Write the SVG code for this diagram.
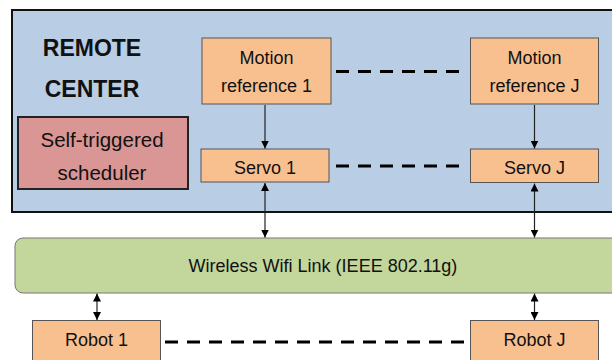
<svg xmlns="http://www.w3.org/2000/svg" width="612" height="360" viewBox="0 0 612 360">
<style>
text{font-family:"Liberation Sans",Arial,sans-serif;fill:#111;text-anchor:middle}
.t{font-size:18px}
.orange{fill:#f9c08f;stroke:#555;stroke-width:1}
.dash{stroke:#000;stroke-width:3;stroke-dasharray:13 9;fill:none}
.arr{stroke:#222;stroke-width:1.2;fill:none}
</style>
<defs>
<marker id="ah" viewBox="0 0 8 8" refX="8" refY="4" markerWidth="8" markerHeight="8" markerUnits="userSpaceOnUse" orient="auto-start-reverse">
<path d="M0,0 L8,4 L0,8 z" fill="#000"/>
</marker>
</defs>
<rect width="612" height="360" fill="#fff"/>
<g id="remote-center">
<rect x="12" y="10" width="620" height="202" fill="#b9cde5" stroke="#111" stroke-width="2"/>
<text x="92" y="56" style="font-size:23px;font-weight:bold">REMOTE</text>
<text x="92" y="97" style="font-size:23px;font-weight:bold">CENTER</text>
</g>
<g id="scheduler">
<rect x="18" y="117" width="170" height="72" fill="#d99694" stroke="#222" stroke-width="2"/>
<text x="102" y="147" style="font-size:20.5px">Self-triggered</text>
<text x="102" y="180" style="font-size:20.5px">scheduler</text>
</g>
<g id="motion-ref-1">
<rect class="orange" x="202" y="38" width="129" height="66"/>
<text class="t" x="266.5" y="63.5">Motion</text>
<text class="t" x="266.5" y="92">reference 1</text>
</g>
<g id="motion-ref-j">
<rect class="orange" x="470.5" y="38" width="128" height="66"/>
<text class="t" x="534.5" y="63.5">Motion</text>
<text class="t" x="534.5" y="92">reference J</text>
</g>
<g id="servo-1">
<rect class="orange" x="201" y="149" width="128" height="33"/>
<text class="t" x="265" y="174">Servo 1</text>
</g>
<g id="servo-j">
<rect class="orange" x="470.5" y="149" width="128" height="33.5"/>
<text class="t" x="534.5" y="174">Servo J</text>
</g>
<g id="wifi">
<rect x="15" y="238" width="620" height="55" rx="8" fill="#c3d69b" stroke="#777" stroke-width="1"/>
<text class="t" x="323" y="272">Wireless Wifi Link (IEEE 802.11g)</text>
</g>
<g id="robot-1">
<rect class="orange" x="32.5" y="320.5" width="128" height="50"/>
<text class="t" x="96.5" y="346">Robot 1</text>
</g>
<g id="robot-j">
<rect class="orange" x="470.5" y="320.5" width="128" height="50"/>
<text class="t" x="534.5" y="346">Robot J</text>
</g>
<g id="connectors">
<line class="dash" x1="336" y1="71.5" x2="466" y2="71.5"/>
<line class="dash" x1="336" y1="166" x2="467" y2="166"/>
<line class="dash" x1="165" y1="342" x2="468" y2="342"/>
<line class="arr" x1="265" y1="105" x2="265" y2="148.5" marker-end="url(#ah)"/>
<line class="arr" x1="534.5" y1="105" x2="534.5" y2="148.5" marker-end="url(#ah)"/>
<line class="arr" x1="265" y1="183" x2="265" y2="237.5" marker-start="url(#ah)" marker-end="url(#ah)"/>
<line class="arr" x1="534.5" y1="183.5" x2="534.5" y2="237.5" marker-start="url(#ah)" marker-end="url(#ah)"/>
<line class="arr" x1="97" y1="293.5" x2="97" y2="320" marker-start="url(#ah)" marker-end="url(#ah)"/>
<line class="arr" x1="534.5" y1="293.5" x2="534.5" y2="320" marker-start="url(#ah)" marker-end="url(#ah)"/>
</g>
</svg>
